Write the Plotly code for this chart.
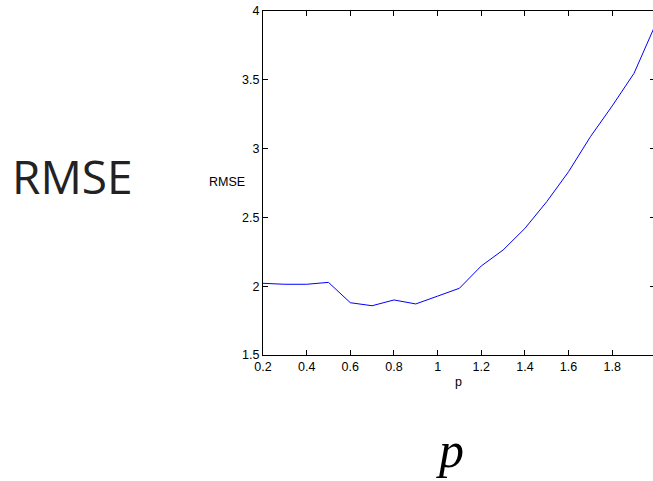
import plotly.graph_objects as go

p_values = [0.2, 0.3, 0.4, 0.5, 0.6, 0.7, 0.8, 0.9, 1.0, 1.1, 1.2, 1.3, 1.4, 1.5, 1.6, 1.7, 1.8, 1.9, 2.0]
rmse_values = [2.021, 2.014, 2.014, 2.028, 1.880, 1.858, 1.900, 1.871, 1.928, 1.985,
               2.147, 2.263, 2.420, 2.614, 2.832, 3.086, 3.310, 3.547, 3.908]
x_ticks = [0.2, 0.4, 0.6, 0.8, 1.0, 1.2, 1.4, 1.6, 1.8, 2.0]
x_tick_labels = ["0.2", "0.4", "0.6", "0.8", "1", "1.2", "1.4", "1.6", "1.8", "2"]
y_ticks = [1.5, 2.0, 2.5, 3.0, 3.5, 4.0]
y_tick_labels = ["1.5", "2", "2.5", "3", "3.5", "4"]

W, H = 653, 481
L, R, T, B = 263, 0, 11, 126
plot_w = W - L - R
plot_h = H - T - B
x_per_px = 0.2 / 43.65
x_range = [0.2, 0.2 + plot_w * x_per_px]

fig = go.Figure()
fig.add_trace(go.Scatter(x=p_values, y=rmse_values, mode="lines",
                         line=dict(color="#0000ff", width=1), showlegend=False,
                         hoverinfo="skip"))
fig.add_trace(go.Scatter(x=[None], y=[None], yaxis="y2", mode="lines",
                         showlegend=False, hoverinfo="skip"))

tickfont = dict(family="Liberation Sans, Arial, sans-serif", size=12.5, color="#000000")

fig.update_layout(
    width=W, height=H,
    margin=dict(l=L, r=R, t=T, b=B, pad=0),
    paper_bgcolor="white", plot_bgcolor="white",
    xaxis=dict(range=x_range, tickvals=x_ticks, ticktext=x_tick_labels,
               ticks="inside", ticklen=5, tickwidth=1, tickcolor="black",
               showline=True, linecolor="black", linewidth=1, mirror="ticks",
               showgrid=False, zeroline=False, tickfont=tickfont),
    yaxis=dict(range=[1.5, 4.0], tickvals=y_ticks, ticktext=y_tick_labels,
               ticks="inside", ticklen=5, tickwidth=1, tickcolor="black",
               showline=True, linecolor="black", linewidth=1, mirror=False,
               showgrid=False, zeroline=False, tickfont=tickfont),
    yaxis2=dict(range=[1.5, 4.0], tickvals=y_ticks, overlaying="y", side="right",
                ticks="inside", ticklen=3, tickwidth=1, tickcolor="black",
                showline=False, showticklabels=False, showgrid=False, zeroline=False),
)

def px_to_paper(px, py):
    return (px - L) / plot_w, (H - B - py) / plot_h

ax, ay = px_to_paper(227, 182)
fig.add_annotation(text="RMSE", x=ax, y=ay, xref="paper", yref="paper",
                   showarrow=False, xanchor="center", yanchor="middle",
                   font=dict(family="Liberation Sans, Arial, sans-serif", size=12.5, color="black"))
ax, ay = px_to_paper(458, 382)
fig.add_annotation(text="p", x=ax, y=ay, xref="paper", yref="paper",
                   showarrow=False, xanchor="center", yanchor="middle",
                   font=dict(family="Liberation Sans, Arial, sans-serif", size=12.5, color="black"))
ax, ay = px_to_paper(72, 176)
fig.add_annotation(text="RMSE", x=ax, y=ay, xref="paper", yref="paper",
                   showarrow=False, xanchor="center", yanchor="middle",
                   font=dict(family="Open Sans, sans-serif", size=46, color="#222222"))
ax, ay = px_to_paper(450, 450)
fig.add_annotation(text="<i>p</i>", x=ax, y=ay, xref="paper", yref="paper",
                   showarrow=False, xanchor="center", yanchor="middle",
                   font=dict(family="Liberation Serif, serif", size=50, color="black"))

fig.write_html("out.html")
